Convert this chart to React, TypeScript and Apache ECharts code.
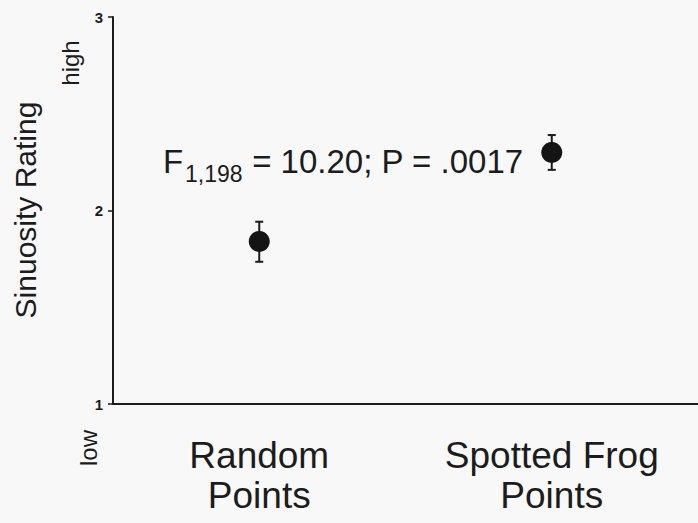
import React, { useEffect, useRef } from "react";
import * as echarts from "echarts";

const categories = ["Random\nPoints", "Spotted Frog\nPoints"];
const means = [1.84, 2.3];
const errLow = [1.735, 2.21];
const errHigh = [1.942, 2.39];
const yMin = 1;
const yMax = 3;
const yInterval = 1;
const annotationMain = "F";
const annotationSub = "1,198";
const annotationRest = " = 10.20; P = .0017";

const FONT = "'Liberation Sans', Arial, Helvetica, sans-serif";
const INK = "#1c1c1c";

export default function App() {
  const ref = useRef<HTMLDivElement>(null);
  useEffect(() => {
    if (!ref.current) return;
    const chart = echarts.init(ref.current, undefined, { renderer: "svg" });
    chart.setOption({
      animation: false,
      backgroundColor: "#f8f8f8",
      textStyle: { fontFamily: FONT },
      grid: { left: 113, right: 0, top: 17, bottom: 119, containLabel: false },
      xAxis: {
        type: "category",
        data: categories,
        boundaryGap: true,
        axisLine: { lineStyle: { color: INK, width: 2 } },
        axisTick: { alignWithLabel: true, length: 5, lineStyle: { color: INK, width: 1.5 } },
        axisLabel: { color: INK, fontSize: 37, lineHeight: 40, margin: 31, fontFamily: FONT },
        splitLine: { show: false },
      },
      yAxis: {
        type: "value",
        min: yMin,
        max: yMax,
        interval: yInterval,
        axisLine: { show: true, lineStyle: { color: INK, width: 2 } },
        axisTick: { show: true, length: 5, lineStyle: { color: INK, width: 1.5 } },
        axisLabel: { color: INK, fontSize: 15, fontWeight: "bold", margin: 10, fontFamily: FONT },
        splitLine: { show: false },
      },
      graphic: [
        {
          type: "text",
          x: 25,
          y: 210,
          rotation: Math.PI / 2,
          style: { text: "Sinuosity Rating", fill: INK, font: `30px ${FONT}`, align: "center", verticalAlign: "middle" },
        },
        {
          type: "text",
          x: 70,
          y: 63,
          rotation: Math.PI / 2,
          style: { text: "high", fill: INK, font: `24px ${FONT}`, align: "center", verticalAlign: "middle" },
        },
        {
          type: "text",
          x: 88,
          y: 448,
          rotation: Math.PI / 2,
          style: { text: "low", fill: INK, font: `24px ${FONT}`, align: "center", verticalAlign: "middle" },
        },
        {
          type: "text",
          x: 163,
          y: 161,
          style: { text: annotationMain, fill: INK, font: `33px ${FONT}`, align: "left", verticalAlign: "middle" },
        },
        {
          type: "text",
          x: 185,
          y: 174,
          style: { text: annotationSub, fill: INK, font: `23px ${FONT}`, align: "left", verticalAlign: "middle" },
        },
        {
          type: "text",
          x: 243,
          y: 161,
          style: { text: annotationRest, fill: INK, font: `33px ${FONT}`, align: "left", verticalAlign: "middle" },
        },
      ],
      series: [
        {
          type: "custom",
          data: categories.map((_, i) => [i, errLow[i], errHigh[i]]),
          z: 2,
          renderItem: (params: any, api: any) => {
            const x = api.value(0);
            const lo = api.coord([x, api.value(1)]);
            const hi = api.coord([x, api.value(2)]);
            const hw = 4;
            const st = { stroke: INK, lineWidth: 2 };
            return {
              type: "group",
              children: [
                { type: "line", shape: { x1: lo[0], y1: lo[1], x2: hi[0], y2: hi[1] }, style: st },
                { type: "line", shape: { x1: lo[0] - hw, y1: lo[1], x2: lo[0] + hw, y2: lo[1] }, style: st },
                { type: "line", shape: { x1: hi[0] - hw, y1: hi[1], x2: hi[0] + hw, y2: hi[1] }, style: st },
              ],
            };
          },
        },
        {
          type: "scatter",
          data: means.map((m, i) => [i, m]),
          symbol: "circle",
          symbolSize: 21,
          z: 3,
          itemStyle: { color: "#141414", opacity: 1 },
        },
      ],
    });
    return () => chart.dispose();
  }, []);
  return <div ref={ref} style={{ position: "fixed", left: 0, top: 0, width: 698, height: 523 }} />;
}
